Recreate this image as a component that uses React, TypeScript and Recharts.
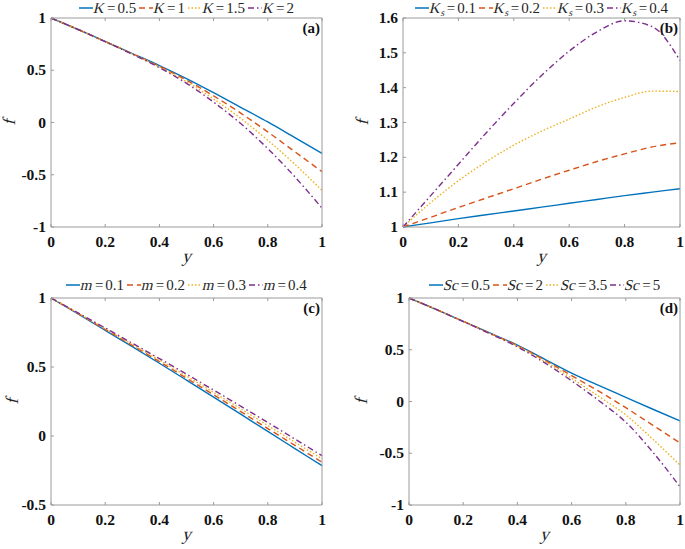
import { LineChart, Line, XAxis, YAxis, Legend } from "recharts"

const SERIF = "'Liberation Serif', 'Times New Roman', serif"
const AXIS = "#9a9a9a"
const INK = "#262626"
const SKEW = -14

const yPts = [0, 0.1, 0.2, 0.3, 0.4, 0.5, 0.6, 0.7, 0.8, 0.9, 1]
const xTicks = [0, 0.2, 0.4, 0.6, 0.8, 1]

const colors = ["#0072BD", "#D95319", "#EDB120", "#7E2F8E"]
const dashes = ["", "6 4", "1.5 2", "6 3 1.5 3"]

// (a) K
const fK05 = [1, 0.89, 0.775, 0.66, 0.545, 0.42, 0.285, 0.145, 0.005, -0.145, -0.295]
const fK1 = [1, 0.89, 0.775, 0.658, 0.538, 0.405, 0.255, 0.09, -0.09, -0.28, -0.47]
const fK15 = [1, 0.89, 0.774, 0.656, 0.532, 0.39, 0.225, 0.04, -0.17, -0.4, -0.65]
const fK2 = [1, 0.89, 0.773, 0.654, 0.525, 0.375, 0.195, -0.01, -0.25, -0.52, -0.82]
const labelsA = [
  { sym: "K", sub: "", val: "0.5" },
  { sym: "K", sub: "", val: "1" },
  { sym: "K", sub: "", val: "1.5" },
  { sym: "K", sub: "", val: "2" },
]
const ticksA = [-1, -0.5, 0, 0.5, 1]

// (b) Ks
const fKs01 = [1, 1.012, 1.024, 1.035, 1.046, 1.057, 1.068, 1.079, 1.09, 1.1, 1.11]
const fKs02 = [1, 1.028, 1.056, 1.083, 1.11, 1.137, 1.163, 1.188, 1.21, 1.23, 1.242]
const fKs03 = [1, 1.07, 1.133, 1.187, 1.235, 1.275, 1.31, 1.345, 1.372, 1.39, 1.389]
const fKs04 = [1, 1.09, 1.18, 1.27, 1.355, 1.435, 1.505, 1.56, 1.592, 1.575, 1.478]
const labelsB = [
  { sym: "K", sub: "s", val: "0.1" },
  { sym: "K", sub: "s", val: "0.2" },
  { sym: "K", sub: "s", val: "0.3" },
  { sym: "K", sub: "s", val: "0.4" },
]
const ticksB = [1, 1.1, 1.2, 1.3, 1.4, 1.5, 1.6]

// (c) m
const fm01 = [1, 0.884, 0.766, 0.647, 0.527, 0.405, 0.282, 0.158, 0.033, -0.091, -0.215]
const fm02 = [1, 0.887, 0.772, 0.656, 0.539, 0.419, 0.299, 0.177, 0.054, -0.068, -0.19]
const fm03 = [1, 0.889, 0.777, 0.664, 0.55, 0.434, 0.316, 0.197, 0.076, -0.045, -0.165]
const fm04 = [1, 0.892, 0.783, 0.672, 0.561, 0.448, 0.333, 0.216, 0.098, -0.022, -0.143]
const labelsC = [
  { sym: "m", sub: "", val: "0.1" },
  { sym: "m", sub: "", val: "0.2" },
  { sym: "m", sub: "", val: "0.3" },
  { sym: "m", sub: "", val: "0.4" },
]
const ticksC = [-0.5, 0, 0.5, 1]

// (d) Sc
const fSc05 = [1, 0.89, 0.775, 0.66, 0.545, 0.41, 0.275, 0.155, 0.04, -0.075, -0.187]
const fSc2 = [1, 0.89, 0.775, 0.658, 0.54, 0.4, 0.25, 0.1, -0.06, -0.23, -0.4]
const fSc35 = [1, 0.89, 0.774, 0.656, 0.535, 0.39, 0.225, 0.05, -0.13, -0.365, -0.614]
const fSc5 = [1, 0.89, 0.773, 0.654, 0.528, 0.375, 0.2, 0.01, -0.2, -0.49, -0.823]
const labelsD = [
  { sym: "Sc", sub: "", val: "0.5" },
  { sym: "Sc", sub: "", val: "2" },
  { sym: "Sc", sub: "", val: "3.5" },
  { sym: "Sc", sub: "", val: "5" },
]
const ticksD = [-1, -0.5, 0, 0.5, 1]

const tickText = { fontFamily: SERIF, fontSize: 15.5, fontWeight: 700, fill: "#111" }

function BottomTick(p: any) {
  return (
    <g>
      <line x1={p.x} x2={p.x} y1={p.y} y2={p.y - 3} stroke={AXIS} />
      <text x={p.x} y={p.y + 20} textAnchor="middle" {...tickText}>{String(p.payload.value)}</text>
    </g>
  )
}
function LeftTick(p: any) {
  return (
    <g>
      <line x1={p.x} x2={p.x + 3} y1={p.y} y2={p.y} stroke={AXIS} />
      <text x={p.x - 5} y={p.y + 5} textAnchor="end" {...tickText}>{String(p.payload.value)}</text>
    </g>
  )
}
function TopTick(p: any) {
  return <line x1={p.x} x2={p.x} y1={p.y} y2={p.y + 3} stroke={AXIS} />
}
function RightTick(p: any) {
  return <line x1={p.x - 3} x2={p.x} y1={p.y} y2={p.y} stroke={AXIS} />
}

// no serif italic face is installed, so slant the upright one
const slant = { display: "inline-block", transform: `skewX(${SKEW}deg)` }

function LegendRow({ labels }: any) {
  return (
    <div style={{ display: "flex", justifyContent: "center", height: 16, lineHeight: "16px", fontFamily: SERIF, fontSize: 15, color: INK, whiteSpace: "nowrap" }}>
      {labels.map((l: any, i: number) => (
        <span key={i} style={{ display: "inline-flex", alignItems: "center", marginLeft: i ? 3 : 0, height: 16 }}>
          <svg width={14} height={6}>
            <line x1={0} x2={14} y1={3} y2={3} stroke={colors[i]} strokeWidth={1.5} strokeDasharray={dashes[i]} />
          </svg>
          <span style={{ marginLeft: 1, height: 16 }}>
            <span style={slant}>{l.sym}</span>
            {l.sub ? <span style={{ ...slant, fontSize: 10, position: "relative", top: 3 }}>{l.sub}</span> : null}
            <span style={{ margin: "0 2px" }}>=</span>
            {l.val}
          </span>
        </span>
      ))}
    </div>
  )
}

function Panel(props: any) {
  const { tag, series, labels, yTicks, domain, left, top, width, height, margin, legendTop, yLabelX } = props
  const rows = yPts.map((y, i) => {
    const r: any = { y }
    series.forEach((s: number[], j: number) => (r["s" + j] = s[i]))
    return r
  })
  const plotLeft = margin.left + 45
  const plotRight = width - margin.right - 1
  const plotTop = margin.top + 1 + 16
  const plotBottom = height - margin.bottom - 30
  const midY = (plotTop + plotBottom) / 2
  return (
    <div style={{ position: "absolute", left, top }}>
      <LineChart width={width} height={height} data={rows} margin={margin}>
        <Legend
          verticalAlign="top"
          wrapperStyle={{ top: legendTop, left: plotLeft, width: plotRight - plotLeft }}
          content={() => <LegendRow labels={labels} />}
        />
        <XAxis
          xAxisId="b"
          dataKey="y"
          type="number"
          domain={[0, 1]}
          ticks={xTicks}
          interval={0}
          height={30}
          tickSize={0}
          tickMargin={0}
          tickLine={false}
          stroke={AXIS}
          tick={BottomTick}
          label={{
            content: () => (
              <text transform={`translate(${(plotLeft + plotRight) / 2}, ${plotBottom + 35}) skewX(${SKEW})`} textAnchor="middle" fontFamily={SERIF} fontSize={18} fill={INK}>y</text>
            ),
          }}
        />
        <XAxis xAxisId="t" orientation="top" dataKey="y" type="number" domain={[0, 1]} ticks={xTicks} interval={0} height={1} tickSize={0} tickMargin={0} tickLine={false} stroke={AXIS} tick={TopTick} />
        <YAxis
          yAxisId="l"
          type="number"
          domain={domain}
          ticks={yTicks}
          interval={0}
          width={45}
          tickSize={0}
          tickMargin={0}
          tickLine={false}
          stroke={AXIS}
          tick={LeftTick}
          label={{
            content: () => (
              <text transform={`translate(${yLabelX}, ${midY}) rotate(-90) skewX(${SKEW})`} textAnchor="middle" fontFamily={SERIF} fontSize={18} fill={INK}>f</text>
            ),
          }}
        />
        <YAxis
          yAxisId="r"
          orientation="right"
          type="number"
          domain={domain}
          ticks={yTicks}
          interval={0}
          width={1}
          tickSize={0}
          tickMargin={0}
          tickLine={false}
          stroke={AXIS}
          tick={RightTick}
          label={{
            content: () => (
              <text x={plotRight - 2} y={plotTop + 15} textAnchor="end" fontFamily={SERIF} fontSize={15} fontWeight={700} fill="#111">({tag})</text>
            ),
          }}
        />
        {series.map((_: number[], j: number) => (
          <Line
            key={j}
            xAxisId="b"
            yAxisId="l"
            dataKey={"s" + j}
            type="monotone"
            stroke={colors[j]}
            strokeWidth={1.4}
            strokeDasharray={dashes[j]}
            dot={false}
            activeDot={false}
            isAnimationActive={false}
          />
        ))}
      </LineChart>
    </div>
  )
}

export default function App() {
  return (
    <div style={{ position: "absolute", left: 0, top: 0, width: 685, height: 549, background: "#fff" }}>
      <Panel tag="a" series={[fK05, fK1, fK15, fK2]} labels={labelsA} yTicks={ticksA} domain={[-1, 1]}
        left={0} top={0} width={342} height={270} margin={{ top: 1, right: 19, bottom: 13, left: 6 }} legendTop={0} yLabelX={15} />
      <Panel tag="b" series={[fKs01, fKs02, fKs03, fKs04]} labels={labelsB} yTicks={ticksB} domain={[1, 1.6]}
        left={342} top={0} width={343} height={270} margin={{ top: 1, right: 4, bottom: 13, left: 16 }} legendTop={0} yLabelX={26} />
      <Panel tag="c" series={[fm01, fm02, fm03, fm04]} labels={labelsC} yTicks={ticksC} domain={[-0.5, 1]}
        left={0} top={270} width={342} height={279} margin={{ top: 11, right: 19, bottom: 14, left: 6 }} legendTop={7} yLabelX={18} />
      <Panel tag="d" series={[fSc05, fSc2, fSc35, fSc5]} labels={labelsD} yTicks={ticksD} domain={[-1, 1]}
        left={342} top={270} width={343} height={279} margin={{ top: 11, right: 4, bottom: 14, left: 22 }} legendTop={7} yLabelX={25} />
    </div>
  )
}
